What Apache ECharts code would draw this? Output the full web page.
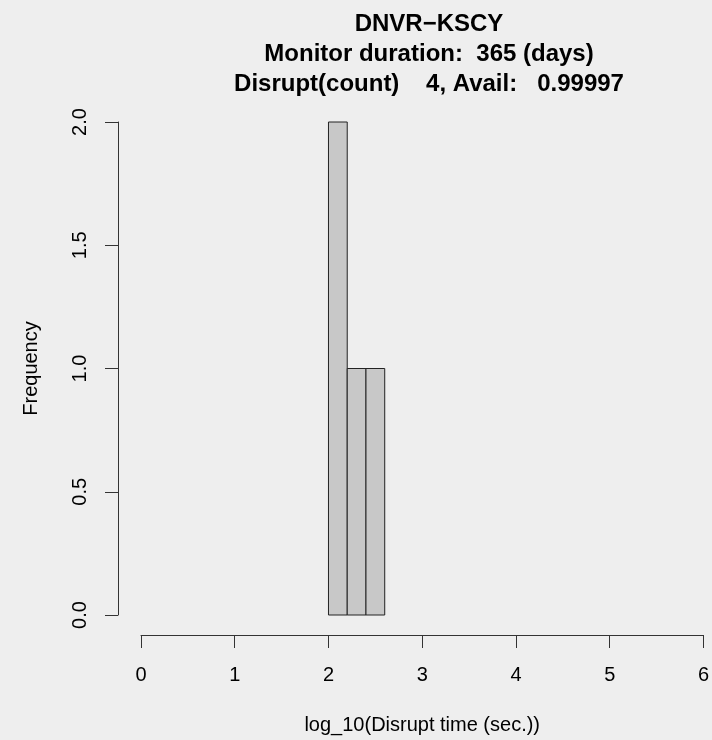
<!DOCTYPE html>
<html lang="en">

<head>
    <meta charset="UTF-8">
    <title>DNVR-KSCY</title>
    <script src="https://cdn.jsdelivr.net/npm/echarts/dist/echarts.min.js"></script>
    <style>
        body { margin: 0; background: #eeeeee; }
    </style>
</head>

<body>
    <div id="histChart" style="width: 712px; height: 740px;"></div>
    <script>
        // histogram bins (log_10 of disrupt time) and their counts
        const binStarts = [2.0, 2.2, 2.4];
        const binEnds = [2.2, 2.4, 2.6];
        const counts = [2, 1, 1];

        // axis ranges / ticks
        const xTicks = [0, 1, 2, 3, 4, 5, 6];
        const yTicks = [0.0, 0.5, 1.0, 1.5, 2.0];

        const titleLines = ['DNVR\u2212KSCY', 'Monitor duration:  365 (days)', 'Disrupt(count)    4, Avail:   0.99997'];

        const chart = echarts.init(document.getElementById('histChart'));

        const font = 'Liberation Sans, Arial, Helvetica, sans-serif';
        const ink = '#000';
        const axisColor = '#333';

        const barData = binStarts.map((s, i) => [s, binEnds[i], counts[i]]);

        chart.setOption({
            backgroundColor: '#eeeeee',
            animation: false,
            title: {
                text: titleLines.join('\n'),
                left: 424,
                top: 4,
                textAlign: 'center',
                textStyle: {
                    fontFamily: font,
                    fontSize: 24,
                    fontWeight: 'bold',
                    lineHeight: 30,
                    color: ink
                }
            },
            grid: { left: 141, right: 6, top: 122, bottom: 125 },
            xAxis: {
                type: 'value',
                min: xTicks[0],
                max: xTicks[xTicks.length - 1],
                interval: 1,
                offset: 20,
                name: 'log_10(Disrupt time (sec.))',
                nameLocation: 'middle',
                nameGap: 80,
                nameTextStyle: { fontFamily: font, fontSize: 20, color: ink },
                axisLine: { onZero: false, lineStyle: { color: axisColor, width: 1 } },
                axisTick: { length: 13, lineStyle: { color: axisColor } },
                axisLabel: { margin: 30, fontFamily: font, fontSize: 20, color: ink },
                splitLine: { show: false }
            },
            yAxis: {
                type: 'value',
                min: yTicks[0],
                max: yTicks[yTicks.length - 1],
                interval: 0.5,
                offset: 23,
                name: 'Frequency',
                nameLocation: 'middle',
                nameGap: 77,
                nameRotate: 90,
                nameTextStyle: { fontFamily: font, fontSize: 20, color: ink },
                axisLine: { show: true, onZero: false, lineStyle: { color: axisColor, width: 1 } },
                axisTick: { show: true, length: 13, lineStyle: { color: axisColor } },
                axisLabel: {
                    rotate: 90,
                    margin: 28,
                    fontFamily: font,
                    fontSize: 20,
                    color: ink,
                    formatter: v => v.toFixed(1)
                },
                splitLine: { show: false }
            },
            series: [{
                type: 'custom',
                data: barData,
                encode: { x: [0, 1], y: 2 },
                renderItem: function (params, api) {
                    const p0 = api.coord([api.value(0), 0]);
                    const p1 = api.coord([api.value(1), api.value(2)]);
                    return {
                        type: 'rect',
                        shape: {
                            x: p0[0],
                            y: p1[1],
                            width: p1[0] - p0[0],
                            height: p0[1] - p1[1]
                        },
                        style: {
                            fill: '#c8c8c8',
                            stroke: '#222',
                            lineWidth: 1
                        }
                    };
                }
            }]
        });
    </script>
</body>

</html>
